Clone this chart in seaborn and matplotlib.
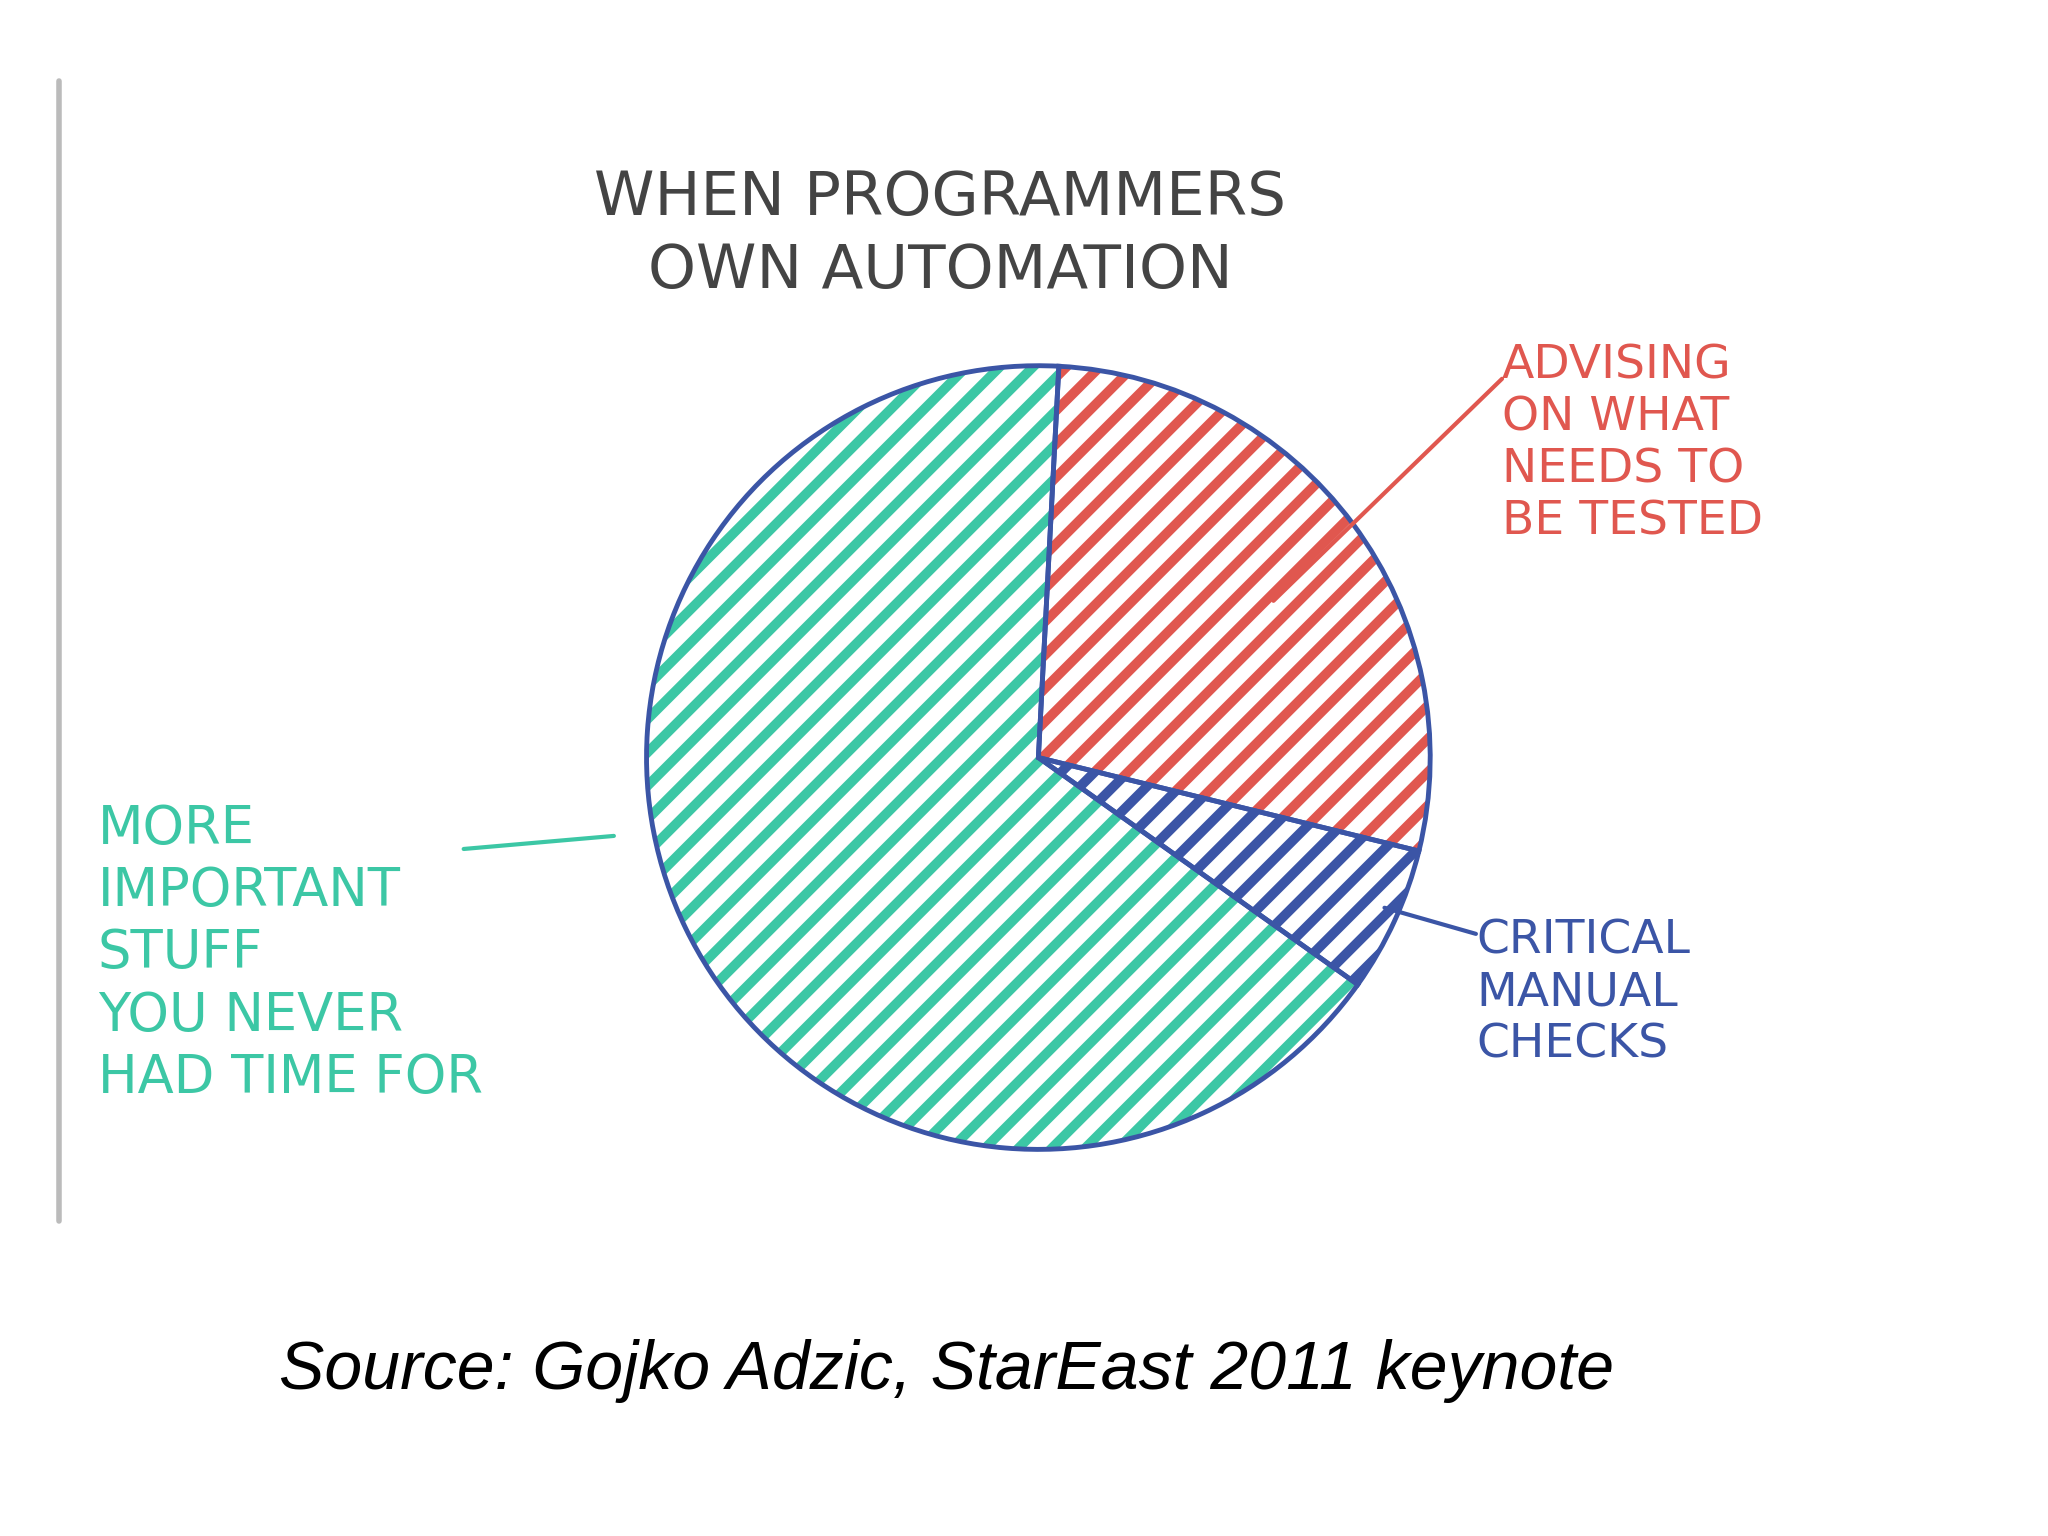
import matplotlib
matplotlib.use("Agg")
import matplotlib.pyplot as plt
import seaborn as sns

sns.set_theme(style="white")
plt.rcParams['font.family'] = ['DejaVu Sans']
plt.rcParams['hatch.linewidth'] = 7

labels = ["ADVISING\nON WHAT\nNEEDS TO\nBE TESTED", "CRITICAL\nMANUAL\nCHECKS",
          "MORE\nIMPORTANT\nSTUFF\nYOU NEVER\nHAD TIME FOR"]
values = [28, 6, 66]
colors = ["#e0574f", "#3b55a6", "#3cc7a5"]
title = "WHEN PROGRAMMERS\nOWN AUTOMATION"
caption = "Source: Gojko Adzic, StarEast 2011 keynote"

W, H = 1568, 1176
fig = plt.figure(figsize=(20.48, 15.36), dpi=100)
ax = fig.add_axes([0, 0, 1, 1])
cx, cy, r = 795, H - 580, 300

wedges, _ = ax.pie(values, startangle=87, counterclock=False, center=(cx, cy),
                   radius=r, frame=True,
                   wedgeprops=dict(facecolor="none", linewidth=0))
for w, c in zip(wedges, colors):
    w.set_hatch("/")
    w.set_edgecolor(c)
ax.pie(values, startangle=87, counterclock=False, center=(cx, cy), radius=r,
       frame=True, wedgeprops=dict(facecolor="none", edgecolor="#3b55a6", linewidth=3.5))
ax.set_xlim(0, W)
ax.set_ylim(0, H)
ax.set_aspect("equal")
ax.axis("off")

ax.plot([45, 45], [H - 62, H - 935], color="#bbbbbb", lw=4)

ax.text(720, H - 180, title, ha="center", va="center", fontsize=44, color="#444444",
        linespacing=1.3)
ax.text(1150, H - 340, labels[0], ha="left", va="center", fontsize=34, color=colors[0])
ax.plot([975, 1150], [H - 460, H - 290], color=colors[0], lw=3)
ax.text(1130, H - 760, labels[1], ha="left", va="center", fontsize=34, color=colors[1])
ax.plot([1060, 1130], [H - 695, H - 715], color=colors[1], lw=3)
ax.text(75, H - 730, labels[2], ha="left", va="center", fontsize=38, color=colors[2],
        linespacing=1.25)
ax.plot([355, 470], [H - 650, H - 640], color=colors[2], lw=3)

ax.text(725, H - 1050, caption, ha="center", va="center", fontsize=49,
        style="italic", color="black", family="Liberation Sans")
fig.savefig("out.png", dpi=100)
